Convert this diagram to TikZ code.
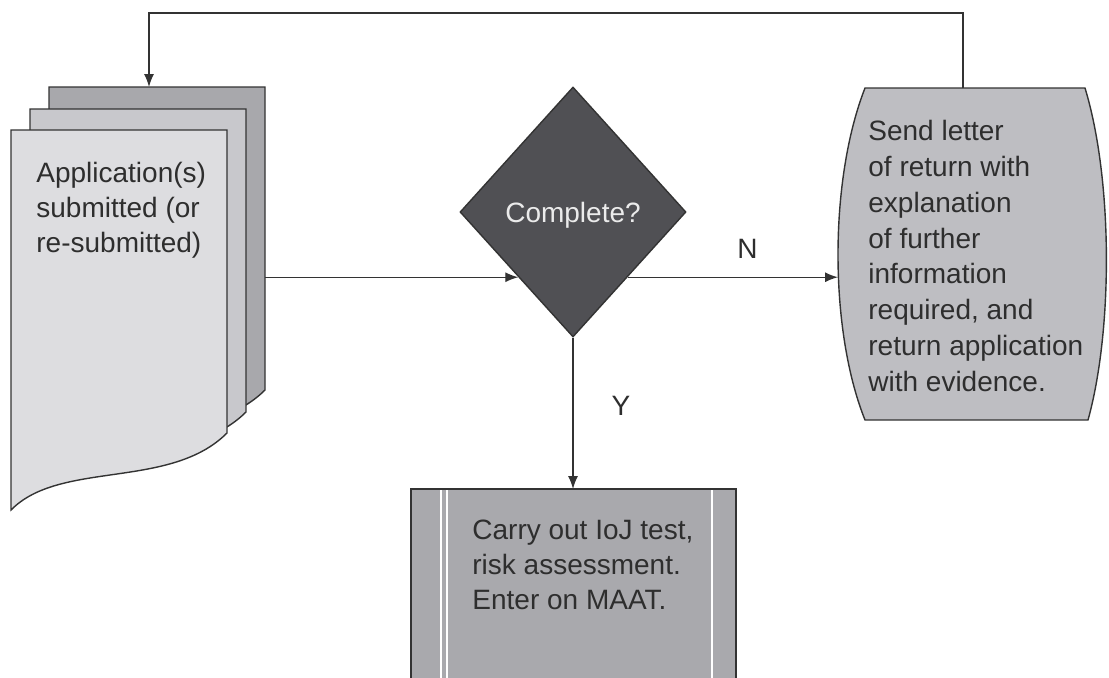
\documentclass[tikz,border=0pt]{standalone}
\usepackage{fontspec}
\setmainfont{Liberation Sans}
\usetikzlibrary{shapes.geometric,arrows.meta}
\definecolor{lineC}{HTML}{333333}
\definecolor{textC}{HTML}{2E2E2E}
\definecolor{sheetA}{HTML}{DDDDE0}
\definecolor{sheetB}{HTML}{C8C8CC}
\definecolor{sheetC}{HTML}{A8A8AC}
\definecolor{decC}{HTML}{505054}
\definecolor{iojC}{HTML}{A9A9AD}
\definecolor{retC}{HTML}{BEBEC2}
\tikzset{
  sheet/.style={draw=lineC, line width=0.7pt},
  arr/.style={draw=lineC, line width=0.65pt, -{Latex[length=6.5pt,width=5pt]}},
  txt/.style={font=\fontsize{14pt}{17.5pt}\selectfont, text=textC, align=left, inner sep=0pt, anchor=north west},
  lbl/.style={font=\fontsize{14pt}{17.5pt}\selectfont, text=textC, inner sep=0pt},
  decbox/.style={diamond, draw=lineC, line width=0.7pt, fill=decC, text=white!92!black,
    minimum width=113pt, minimum height=125pt, inner sep=0pt, text depth=0pt,
    font=\fontsize{14pt}{17.5pt}\selectfont}
}
\begin{document}
\begin{tikzpicture}[x=0.5pt,y=-0.5pt]
        \useasboundingbox (0,0) rectangle (1109,677);
        \clip (0,0) rectangle (1109,677);
        % stack of application sheets
        \foreach \dx/\dy/\col in {38/-43/sheetC, 19/-21/sheetB, 0/0/sheetA}
          \draw[sheet, fill=\col, shift={(\dx,\dy)}] (11,130) -- (227,130) -- (227,433)
            .. controls (170,490) and (60,460) .. (11,510) -- cycle;
        \coordinate (docN) at (149,87);
        \coordinate (docE) at (265,278);
        \node[txt] (app) at (36,162) {Application(s)\\submitted (or\\re-submitted)};
        % decision
        \node[decbox] (dec) at (573,212) {Complete?};
        % return letter
        \draw[sheet, fill=retC] (865,88) -- (1085,88) .. controls (1113,180) and (1113,330) .. (1088,420)
          -- (865,420) .. controls (829,330) and (829,180) .. (865,88) -- cycle;
        \coordinate (retN) at (963,88);
        \coordinate (retW) at (838,278);
        \node[txt, font=\fontsize{14pt}{17.9pt}\selectfont] (ret) at (868,120) {Send letter\\of return with\\explanation\\of further\\information\\required, and\\return application\\with evidence.};
        % IoJ process
        \draw[sheet, fill=iojC] (411,489) rectangle (736,700);
        \foreach \sx in {441,447,712}
          \draw[white, line width=0.6pt] (\sx,490) -- (\sx,700);
        \coordinate (iojN) at (573,489);
        \node[txt] (ioj) at (472,520) {Carry out IoJ test,\\risk assessment.\\Enter on MAAT.};
        % connectors
        \draw[arr] (docE |- dec.230.7) -- (dec.230.7);
        \draw[arr] (dec.-50.7) -- (retW |- dec.-50.7) node[lbl, pos=0.57, above=9pt] (lblN) {N};
        \draw[arr] (dec.south) -- (iojN) node[lbl, pos=0.45, right=19pt] (lblY) {Y};
        \draw[arr] (retN) -- ++(0,-75) -| (docN);
        \end{tikzpicture}
\end{document}
